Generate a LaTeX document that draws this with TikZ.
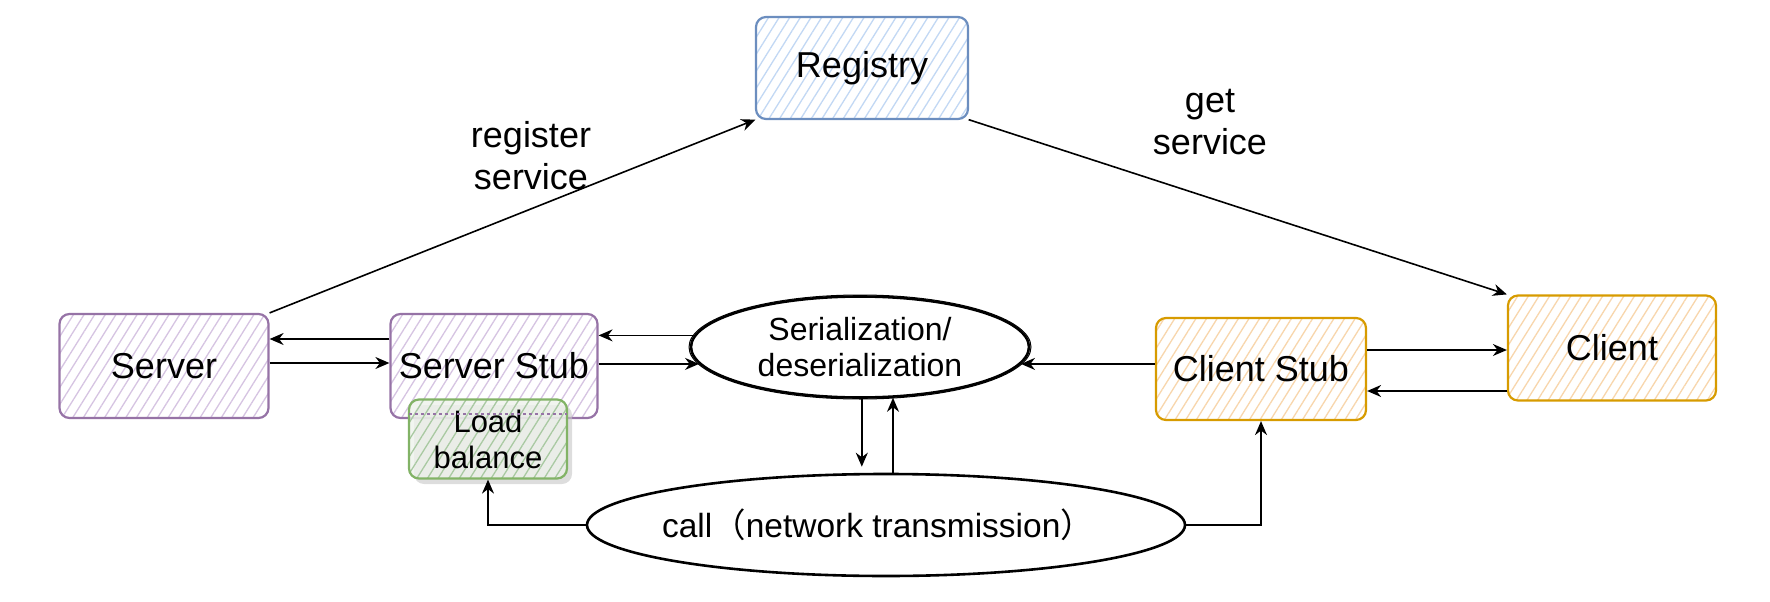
\documentclass[tikz,border=0pt]{standalone}
\usepackage{fontspec}
\setmainfont{Liberation Sans}
\newfontfamily\cjkfont{Noto Sans CJK SC}
\usetikzlibrary{shapes.geometric,arrows.meta,patterns.meta,calc}
\definecolor{pstroke}{HTML}{9673A6}
\definecolor{phatch}{HTML}{D6C4E2}
\definecolor{bstroke}{HTML}{6C8EBF}
\definecolor{bhatch}{HTML}{C2D8F4}
\definecolor{gstroke}{HTML}{82B366}
\definecolor{ghatch}{HTML}{A9C9A2}
\definecolor{gback}{HTML}{EEF2EC}
\definecolor{ostroke}{HTML}{D79B00}
\definecolor{ohatch}{HTML}{F8D6AC}
\tikzset{
  box/.style={rounded corners=10pt, line width=2.2pt, minimum width=209pt, minimum height=104pt,
    font=\fontsize{36}{42}\selectfont, inner sep=0pt},
  hatchfill/.style={preaction={fill=white}, pattern={Lines[angle=58,distance=9pt,line width=1.3pt]}, pattern color=#1},
  oval/.style={ellipse, draw=black, line width=2.6pt, inner sep=0pt, font=\fontsize{32}{36}\selectfont, align=center},
  arr/.style={-{Stealth[length=14pt,width=12pt]}, line width=1.6pt, black},
  lbl/.style={font=\fontsize{36}{42}\selectfont, align=center, inner sep=0pt}
}
\begin{document}
\begin{tikzpicture}[x=1pt,y=-1pt]
\useasboundingbox (0,0) rectangle (1770,602);
% boxes
\node[box, draw=bstroke, hatchfill=bhatch, minimum width=212pt, minimum height=102pt] (reg) at (862,68) {Registry};
\node[box, draw=pstroke, hatchfill=phatch] (srv) at (164,366) {Server};
\node[box, draw=pstroke, hatchfill=phatch, minimum width=207pt] (ss) at (494,366) {Server Stub};
\node[box, draw=ostroke, hatchfill=ohatch, minimum width=210pt, minimum height=102pt] (cs) at (1261,369) {Client Stub};
\node[box, draw=ostroke, hatchfill=ohatch, minimum width=208pt, minimum height=105pt] (cli) at (1612,348) {Client};
% load balance shadow + box
\fill[gray!45, opacity=0.6, rounded corners=10pt] (414,405) rectangle (572,484);
\node[box, draw=gstroke, preaction={fill=gback, fill opacity=0.8}, pattern={Lines[angle=58,distance=9pt,line width=1.3pt]}, pattern color=ghatch,
  minimum width=158pt, minimum height=79pt, font=\fontsize{31}{36}\selectfont, align=center] (lb) at (488,439) {Load\\balance};
\draw[pstroke, line width=1.6pt, dashed] (409,414) -- (567,414);
% ellipses
\node[oval, minimum width=338pt, minimum height=101pt] (ser) at (860,347) {Serialization/\\deserialization};
\draw[line width=1pt] (860,347) ellipse [x radius=171pt, y radius=52pt];
\node[oval, minimum width=598pt, minimum height=102pt] (call) at (886,525) {};
\node[font=\fontsize{33.5}{38}\selectfont, inner sep=0pt] (calltxt) at (878,525) {call{\cjkfont （}network transmission{\cjkfont ）}};
% labels
\node[lbl] (lreg) at (531,156) {register\\service};
\node[lbl] (lget) at (1210,122) {get\\service};
% connectors
\draw[arr] (srv.north east) -- (reg.south west);
\draw[arr] (reg.south east) -- (cli.north west);
\draw[arr] (ss.west |- 0,339) -- (srv.east |- 0,339);
\draw[arr] (srv.east |- 0,363) -- (ss.west |- 0,363);
\draw[arr] (ser.176) -- (ss.east |- ser.176);
\draw[arr] (ss.east |- ser.186) -- (ser.186);
\draw[arr] (cs.west |- ser.354) -- (ser.354);
\draw[arr] (cs.east |- 0,350) -- (cli.west |- 0,350);
\draw[arr] (cli.west |- 0,391) -- (cs.east |- 0,391);
\draw[arr, shorten >=6pt] (ser.272) -- (ser.272 |- call.north);
\draw[arr] (call.north -| ser.303) -- (ser.303);
\draw[arr] (call.west) -| (lb.south);
\draw[arr] (call.east) -| (cs.south);
\end{tikzpicture}
\end{document}
